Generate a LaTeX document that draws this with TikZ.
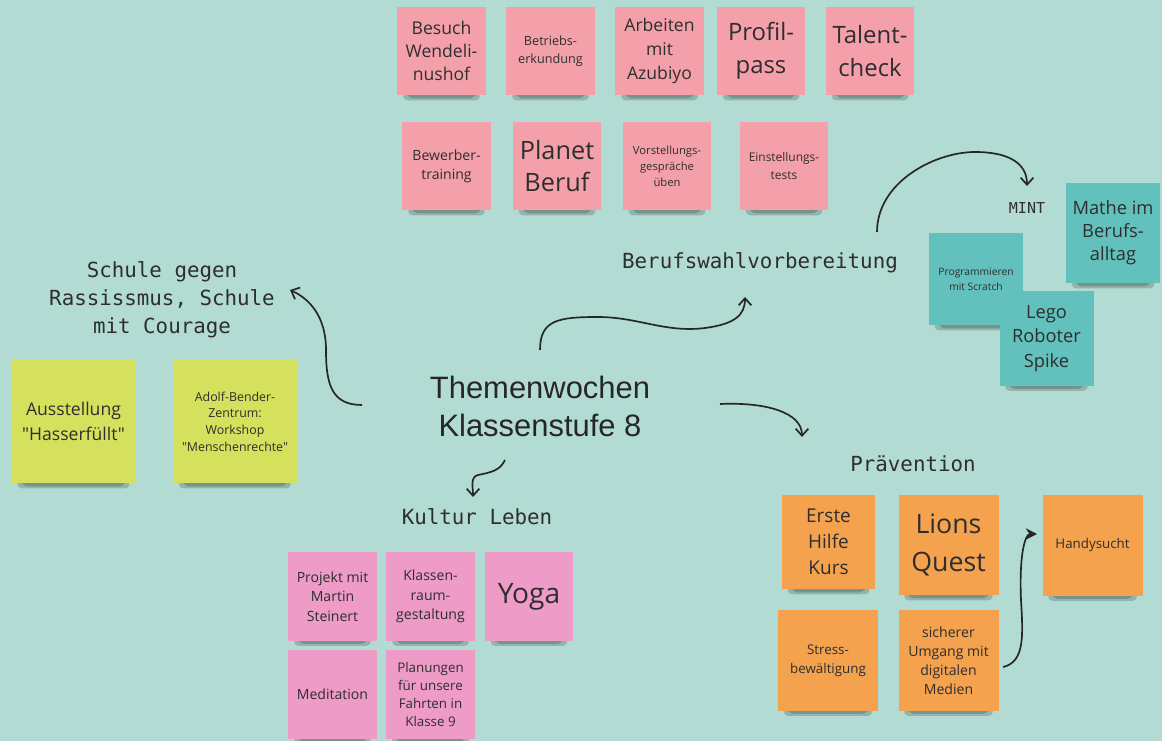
\documentclass[tikz,border=0pt]{standalone}
\usepackage{fontspec}
\usetikzlibrary{arrows.meta, calc, backgrounds}

\newfontfamily\notefont{Open Sans}
\newfontfamily\headfont{DejaVu Sans Mono}
\newfontfamily\hubfont{Liberation Sans}

\definecolor{boardbg}{HTML}{B2DCD3}
\definecolor{notesalmon}{HTML}{F4A0AA}
\definecolor{noterose}{HTML}{EE9BC8}
\definecolor{notelime}{HTML}{D5E05C}
\definecolor{noteteal}{HTML}{62C1BC}
\definecolor{noteorange}{HTML}{F4A24E}
\definecolor{ink}{HTML}{2E2E2E}

\newcommand{\fsz}[2]{\fontsize{#1}{#2}\selectfont}

\begin{document}
\begin{tikzpicture}[
    x=0.025cm, y=-0.025cm,
    note/.style={
        rectangle,
        minimum width=2.2cm,
        minimum height=2.2cm,
        inner sep=1pt,
        align=center,
        text=ink,
        font=\notefont
    },
    pinknote/.style={note, fill=notesalmon},
    rosenote/.style={note, fill=noterose},
    limenote/.style={note, fill=notelime, minimum size=3.08cm},
    tealnote/.style={note, fill=noteteal, minimum width=2.35cm, minimum height=2.35cm},
    orangenote/.style={note, fill=noteorange, minimum width=2.5cm, minimum height=2.5cm},
    fsize/.style 2 args={font=\notefont\fsz{#1}{#2}},
    heading/.style={text=ink, align=center, inner sep=1pt, font=\headfont\fsz{14.8}{20}},
    arrow/.style={
        -{Straight Barb[length=5pt, width=9pt]},
        line width=1.2pt,
        color=black!85
    },
    shadowstrip/.style={fill=black, opacity=0.18, rounded corners=3pt}
]
\useasboundingbox (0,0) rectangle (1162,741);

% Centre
\node[font=\hubfont\fsz{22}{27}, text=black!85, align=center] (themen) at (540,406) {Themenwochen\\Klassenstufe 8};

% Berufswahlvorbereitung
\node[heading] (berufswahl) at (760,263) {Berufswahlvorbereitung};
\node[pinknote, fsize={12.5}{16.5}] (besuch) at (441.5,51) {Besuch\\Wendeli-\\nushof};
\node[pinknote, fsize={9}{12.8}] (betriebs) at (550.5,51) {Betriebs-\\erkundung};
\node[pinknote, fsize={12.5}{17}] (azubiyo) at (659.5,51) {Arbeiten\\mit\\Azubiyo};
\node[pinknote, fsize={17}{23.5}] (profil) at (761,51) {Profil-\\pass};
\node[pinknote, fsize={17}{23.5}] (talent) at (870,51) {Talent-\\check};
\node[pinknote, fsize={10}{13.5}] (bewerber) at (446.5,166) {Bewerber-\\training};
\node[pinknote, fsize={18}{22.5}] (planet) at (557,166) {Planet\\Beruf};
\node[pinknote, fsize={8}{11.5}] (gespraeche) at (667,166) {Vorstellungs-\\gespräche\\üben};
\node[pinknote, fsize={8.5}{12.5}] (tests) at (784,166) {Einstellungs-\\tests};

% MINT
\node[heading, font=\headfont\fsz{10.7}{13}] (mint) at (1027,208) {MINT};
\node[tealnote, minimum height=2.5cm, fsize={13}{16.5}] (mathe) at (1113,233) {Mathe im\\Berufs-\\alltag};
\node[tealnote, minimum height=2.3cm, fsize={7.3}{10.5}] (scratch) at (976,279) {Programmieren\\mit Scratch};
\node[tealnote, fsize={13}{17.5}] (lego) at (1046.5,338.5) {Lego\\Roboter\\Spike};

% Schule gegen Rassismus
\node[heading] (rassismus) at (162,300) {Schule gegen\\Rassissmus, Schule\\mit Courage};
\node[limenote, fsize={12.5}{17.5}] (ausstellung) at (73.5,421.5) {Ausstellung\\"Hasserfüllt"};
\node[limenote, fsize={8.8}{11.8}] (adolf) at (235,421.5) {Adolf-Bender-\\Zentrum:\\Workshop\\"Menschenrechte"};

% Kultur Leben
\node[heading] (kultur) at (477,517) {Kultur Leben};
\node[rosenote, fsize={10}{14}] (projekt) at (332.5,596.5) {Projekt mit\\Martin\\Steinert};
\node[rosenote, fsize={10}{14}] (klassenraum) at (430.5,596.5) {Klassen-\\raum-\\gestaltung};
\node[rosenote, fsize={20}{24}] (yoga) at (529,596.5) {Yoga};
\node[rosenote, fsize={10}{14}] (meditation) at (332.5,694.5) {Meditation};
\node[rosenote, fsize={9.5}{12.8}] (fahrten) at (430.5,694.5) {Planungen\\für unsere\\Fahrten in\\Klasse 9};

% Praevention
\node[heading] (praevention) at (913,464) {Prävention};
\node[orangenote, minimum width=2.33cm, minimum height=2.35cm, fsize={13.5}{18.5}] (erstehilfe) at (828.5,542) {Erste\\Hilfe\\Kurs};
\node[orangenote, fsize={19}{27}] (lions) at (948.5,545) {Lions\\Quest};
\node[orangenote, fsize={9.5}{13}] (handy) at (1092.5,545.5) {Handysucht};
\node[orangenote, fsize={9.5}{13.5}] (stress) at (828,660.5) {Stress-\\bewältigung};
\node[orangenote, fsize={10}{13.5}] (medien) at (948.5,660.5) {sicherer\\Umgang mit\\digitalen\\Medien};

% Arrow ends
\coordinate (hubN) at (540,350);
\coordinate (hubW) at (362,405);
\coordinate (hubS) at (505,460);
\coordinate (hubE) at (720,404);
\coordinate (berufIn) at (745,297);
\coordinate (schuleIn) at (290,290);
\coordinate (kulturIn) at (473,497);
\coordinate (praevIn) at (802,437);
\coordinate (berufOut) at (877,232);
\coordinate (mintIn) at (1027,186);
\coordinate (medienOut) at (1003,667);
\coordinate (handyIn) at (1037,534);

% Hand drawn arrows
\draw[arrow] (hubN) .. controls +(0,-30) and +(-40,0) .. (598,317)
    .. controls +(40,0) and +(-40,5) .. (705,328)
    .. controls +(30,-4) and +(0,18) .. (berufIn);
\draw[arrow] (hubW) .. controls +(-30,0) and +(0,35) .. (326,350)
    .. controls +(0,-35) and +(18,8) .. (schuleIn);
\draw[arrow] (hubS) .. controls +(-5,10) and +(15,-3) .. (478,475)
    .. controls +(-8,2) and +(0,-10) .. (kulturIn);
\draw[arrow] (hubE) .. controls +(45,-2) and +(0,-25) .. (praevIn);
\draw[arrow] (berufOut) .. controls +(0,-50) and +(-40,0) .. (975,152)
    .. controls +(35,0) and +(0,-22) .. (mintIn);
\draw[arrow, -{Stealth[length=8pt, width=8pt]}] (medienOut) .. controls +(22,-5) and +(2,35) .. (1021,600)
    .. controls +(-2,-45) and +(-12,0) .. (handyIn);

% Board and note shadows
\begin{scope}[on background layer]
    \fill[boardbg] (0,0) rectangle (1162,741);
    \foreach \n in {besuch, betriebs, azubiyo, profil, talent, bewerber, planet, gespraeche, tests,
                    mathe, scratch, lego, ausstellung, adolf, projekt, klassenraum, yoga, meditation,
                    fahrten, erstehilfe, lions, handy, stress, medien} {
        \fill[shadowstrip] ($(\n.south west)+(6,-3)$) rectangle ($(\n.south east)+(-6,5)$);
        \fill[shadowstrip] ($(\n.south west)+(11,-3)$) rectangle ($(\n.south east)+(-11,3)$);
    }
\end{scope}

\end{tikzpicture}
\end{document}
